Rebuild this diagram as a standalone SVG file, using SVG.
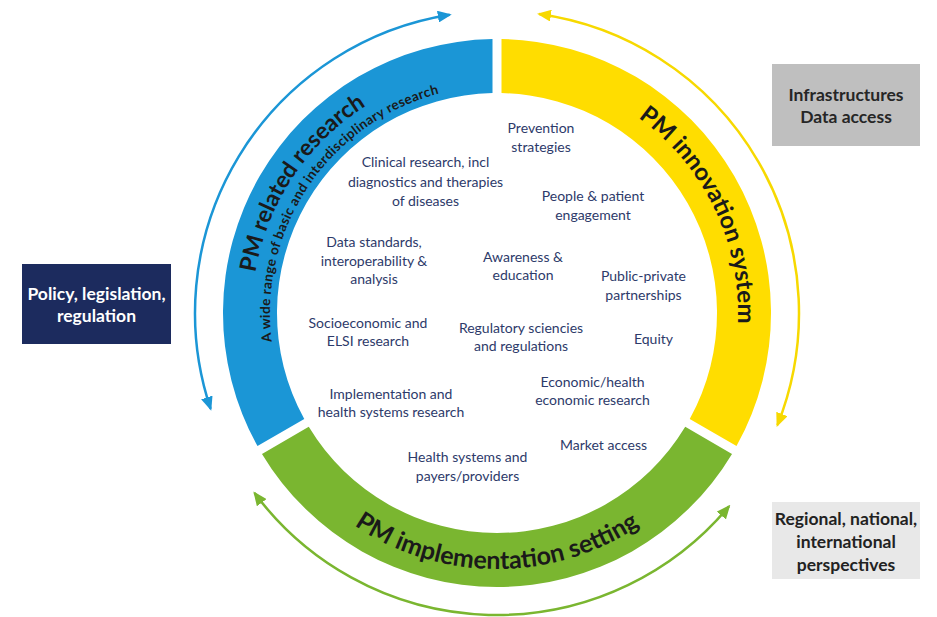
<svg xmlns="http://www.w3.org/2000/svg" width="937" height="617" viewBox="0 0 937 617">
<defs>
<style>
.lbl{font-family:Lato,"Liberation Sans",sans-serif;font-size:14px;fill:#2d3a6a;text-anchor:middle}
.big{font-family:Lato,"Liberation Sans",sans-serif;font-weight:bold;fill:#1a1a1a}
.small{font-family:Lato,"Liberation Sans",sans-serif;font-weight:bold;font-size:13.5px;letter-spacing:0.4px;fill:#1a1a1a}
.box{font-family:Lato,"Liberation Sans",sans-serif;font-weight:bold;font-size:17.5px;text-anchor:middle}
.arr{fill:none;stroke-width:2.5}
</style>
<marker id="mb" viewBox="0 0 14 12" refX="12" refY="6" markerWidth="14" markerHeight="12" markerUnits="userSpaceOnUse" orient="auto-start-reverse"><path d="M0,0 L14,6 L0,12 z" fill="#1b96d6"/></marker>
<marker id="my" viewBox="0 0 14 12" refX="12" refY="6" markerWidth="14" markerHeight="12" markerUnits="userSpaceOnUse" orient="auto-start-reverse"><path d="M0,0 L14,6 L0,12 z" fill="#f7d900"/></marker>
<marker id="mg" viewBox="0 0 14 12" refX="12" refY="6" markerWidth="14" markerHeight="12" markerUnits="userSpaceOnUse" orient="auto-start-reverse"><path d="M0,0 L14,6 L0,12 z" fill="#7ab630"/></marker>
<path id="pBlueBig" d="M 277.55 421.94 A 245 245 0 0 1 512.38 68.48"/>
<path id="pBlueSmall" d="M 292.97 412.51 A 227 227 0 0 1 512.84 86.55"/>
<path id="pYellow" d="M 514.65 72.65 A 241 241 0 0 1 696.33 448.46"/>
<path id="pGreen" d="M 275.30 441 A 256 256 0 0 0 718.70 441"/>
</defs>
<rect width="937" height="617" fill="#ffffff"/>

<g id="ring-research">
<path d="M 257.49 446.08 A 274 274 0 0 1 492.5 39.04 L 492.5 93.05 A 220 220 0 0 0 304.26 419.08 Z" fill="#1b96d6"/>
<text class="big" font-size="23"><textPath href="#pBlueBig" startOffset="50%" text-anchor="middle">PM related research</textPath></text>
<text class="small"><textPath href="#pBlueSmall" startOffset="50%" text-anchor="middle">A wide range of basic and interdisciplinary research</textPath></text>
</g>
<g id="ring-innovation">
<path d="M 501.5 39.04 A 274 274 0 0 1 736.51 446.08 L 689.74 419.08 A 220 220 0 0 0 501.5 93.05 Z" fill="#ffdd00"/>
<text class="big" font-size="24"><textPath href="#pYellow" startOffset="50%" text-anchor="middle">PM innovation system</textPath></text>
</g>
<g id="ring-implementation">
<path d="M 732.01 453.88 A 274 274 0 0 1 261.99 453.88 L 308.76 426.87 A 220 220 0 0 0 685.24 426.87 Z" fill="#7ab630"/>
<text class="big" font-size="25"><textPath href="#pGreen" startOffset="50%" text-anchor="middle">PM implementation setting</textPath></text>
</g>

<g id="connectors">
<path class="arr" stroke="#1b96d6" d="M 210.61 408.82 A 302 302 0 0 1 449.76 14.72" marker-start="url(#mb)" marker-end="url(#mb)"/>
<path class="arr" stroke="#f7d900" d="M 539.03 13.94 A 302 302 0 0 1 777.40 425.15" marker-start="url(#my)" marker-end="url(#my)"/>
<path class="arr" stroke="#7ab630" d="M 729.02 506.31 A 302 302 0 0 1 254.55 493.06" marker-start="url(#mg)" marker-end="url(#mg)"/>
</g>

<g id="box-policy">
<rect x="22" y="264" width="149" height="80" fill="#1c2b5e"/>
<text class="box" fill="#ffffff" x="96.5" y="300">Policy, legislation,<tspan x="96.5" y="322">regulation</tspan></text>
</g>
<g id="box-infra">
<rect x="772" y="64" width="148" height="82" fill="#bfbfbf"/>
<text class="box" fill="#262626" x="846" y="101">Infrastructures<tspan x="846" y="123">Data access</tspan></text>
</g>
<g id="box-regional">
<rect x="772" y="502" width="148" height="77" fill="#e8e8e8"/>
<text class="box" fill="#222222" x="846" y="525">Regional, national,<tspan x="846" y="548">international</tspan><tspan x="846" y="571">perspectives</tspan></text>
</g>

<g id="n-prevention"><text class="lbl" x="541" y="132.5">Prevention<tspan x="541" y="151.5">strategies</tspan></text></g>
<g id="n-clinical"><text class="lbl" x="425.5" y="167">Clinical research, incl<tspan x="425.5" y="187">diagnostics and therapies</tspan><tspan x="425.5" y="205.5">of diseases</tspan></text></g>
<g id="n-people"><text class="lbl" x="593" y="201">People &amp; patient<tspan x="593" y="219.5">engagement</tspan></text></g>
<g id="n-data"><text class="lbl" x="374" y="247">Data standards,<tspan x="374" y="265.5">interoperability &amp;</tspan><tspan x="374" y="283.5">analysis</tspan></text></g>
<g id="n-awareness"><text class="lbl" x="523" y="262">Awareness &amp;<tspan x="523" y="280">education</tspan></text></g>
<g id="n-ppp"><text class="lbl" x="643.5" y="281">Public-private<tspan x="643.5" y="300">partnerships</tspan></text></g>
<g id="n-socio"><text class="lbl" x="368" y="327.5">Socioeconomic and<tspan x="368" y="346">ELSI research</tspan></text></g>
<g id="n-regulatory"><text class="lbl" x="521" y="332.5">Regulatory sciencies<tspan x="521" y="350.5">and regulations</tspan></text></g>
<g id="n-equity"><text class="lbl" x="653.5" y="344">Equity</text></g>
<g id="n-implementation"><text class="lbl" x="391" y="398.5">Implementation and<tspan x="391" y="416.5">health systems research</tspan></text></g>
<g id="n-economic"><text class="lbl" x="592.5" y="386.5">Economic/health<tspan x="592.5" y="404.5">economic research</tspan></text></g>
<g id="n-market"><text class="lbl" x="603.5" y="450">Market access</text></g>
<g id="n-health"><text class="lbl" x="467.5" y="461.5">Health systems and<tspan x="467.5" y="480.5">payers/providers</tspan></text></g>
</svg>
